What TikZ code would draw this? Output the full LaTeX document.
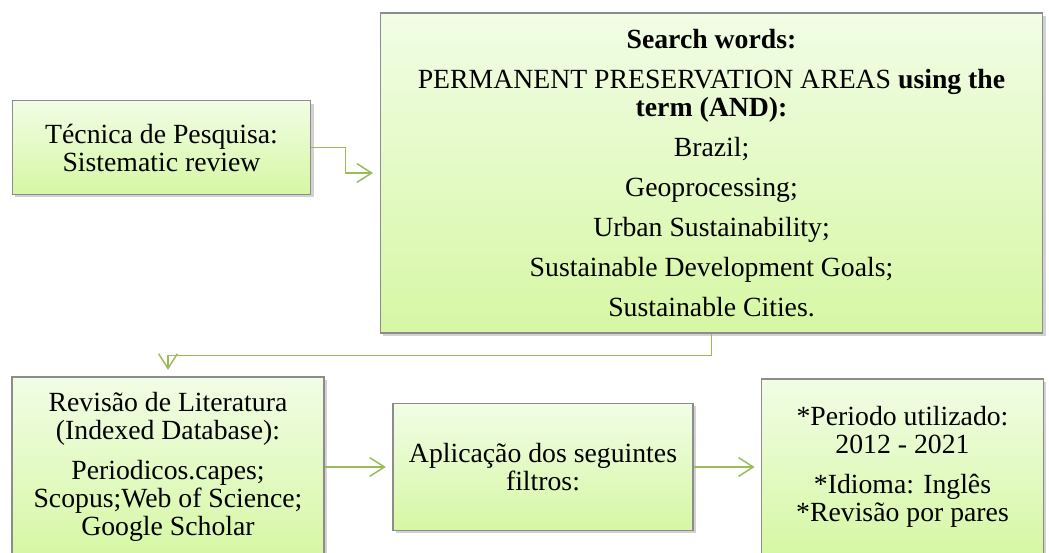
\documentclass[tikz,border=0pt]{standalone}
\usepackage{fontspec}
\setmainfont{Liberation Serif}
\usetikzlibrary{arrows.meta,shadows}
\definecolor{boxtop}{RGB}{241,253,229}
\definecolor{boxbot}{RGB}{214,247,164}
\definecolor{boxline}{RGB}{140,140,140}
\definecolor{flowgreen}{RGB}{155,187,89}
\tikzset{
  box/.style={draw=boxline,line width=0.8pt,top color=boxtop,bottom color=boxbot,
    drop shadow={shadow xshift=2pt,shadow yshift=-2pt,fill=black!35},
    align=center,inner sep=2pt,font=\fontsize{20.8pt}{21pt}\selectfont},
  flow/.style={draw=flowgreen,line width=1.1pt,
    -{Straight Barb[length=11pt,width=14pt,line width=1.1pt]},shorten >=5pt}
}
\begin{document}
\begin{tikzpicture}[x=0.75pt,y=-0.75pt]
      \useasboundingbox (0,0) rectangle (1049,553);
      \draw
        (161.5,147.5) node[box,minimum width=224pt,minimum height=70pt] (tec)
          {Técnica de Pesquisa:\\Sistematic review}
        (711.5,173) node[box,minimum width=497pt,minimum height=240pt] (search)
          {\textbf{Search words:}\\[9pt]
           PERMANENT PRESERVATION AREAS \textbf{using the}\\
           \textbf{term (AND):}\\[9pt]
           Brazil;\\[9pt]
           Geoprocessing;\\[9pt]
           Urban Sustainability;\\[9pt]
           Sustainable Development Goals;\\[9pt]
           Sustainable Cities.}
        (168,467) node[box,minimum width=234pt,minimum height=135pt] (lit)
          {Revisão de Literatura\\(Indexed Database):\\[9pt]
           Periodicos.capes;\\Scopus;Web of Science;\\Google Scholar}
        (543,467) node[box,minimum width=225pt,minimum height=95pt] (filt)
          {Aplicação dos seguintes\\filtros:}
        (902.5,467) node[box,minimum width=211pt,minimum height=132pt] (crit)
          {*Periodo utilizado:\\2012 - 2021\\[9pt]
           *Idioma: Inglês\\*Revisão por pares};
      \begin{scope}[flow]
        \draw (tec.east) -- ++(34,0) |- (search.west);
        \draw (search.south) -- ++(0,22) -| (lit.north);
        \draw (lit.east) -- (filt.west);
        \draw (filt.east) -- (crit.west);
      \end{scope}
    \end{tikzpicture}
\end{document}
